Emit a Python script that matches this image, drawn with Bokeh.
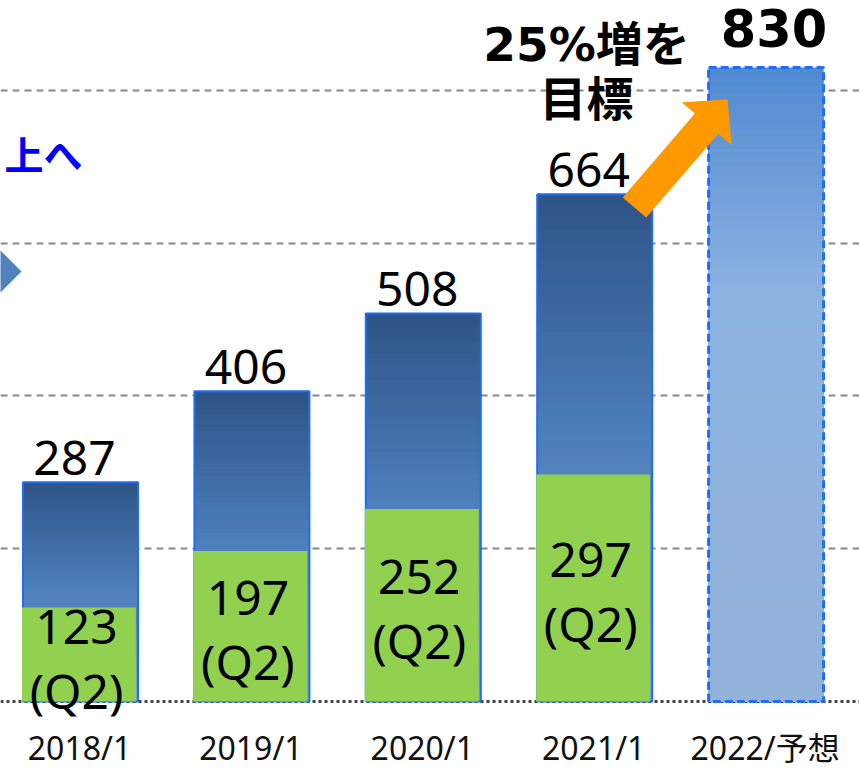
import numpy as np
from bokeh.plotting import figure
from bokeh.models import Range1d, Grid, FixedTicker, Span
from bokeh.core.properties import value
from bokeh.embed import file_html
from bokeh.resources import INLINE

# ---- data ----
categories = ["2018/1", "2019/1", "2020/1", "2021/1", "2022/予想"]
totals = [287, 406, 508, 664, 830]
q2_values = [123, 197, 252, 297]
q2_tag = "(Q2)"
grid_ticks = [200, 400, 600, 800]
target_line1 = "25%増を"
target_line2 = "目標"
side_text = "上へ"

# ---- layout ----
W, H = 859, 770
SX = 171.4          # px per category step
SY = 0.764          # px per unit
X0 = -80 / SX
X1 = X0 + W / SX
Y1 = 701 / SY
Y0 = Y1 - H / SY
BAR_W = 0.671

FONT = value("'Noto Sans', 'Noto Sans CJK JP'")
FONT_B = value("'DejaVu Sans', 'Noto Sans CJK JP'")

p = figure(width=W, height=H, x_range=Range1d(X0, X1), y_range=Range1d(Y0, Y1),
           output_backend="svg", toolbar_location=None,
           x_axis_location=None, y_axis_location=None, min_border=0)
p.outline_line_color = None
p.background_fill_color = "white"
p.grid.visible = False
p.xgrid.visible = False
p.ygrid.visible = False

p.add_layout(Grid(dimension=1, ticker=FixedTicker(ticks=grid_ticks),
                  grid_line_color="#878787", grid_line_dash="7 5",
                  grid_line_width=2))
p.add_layout(Span(location=0, dimension="width", line_color="#444444",
                  line_width=3, line_dash="3 3", level="underlay"))


def lerp_hex(stops, t):
    for (p0, c0), (p1, c1) in zip(stops[:-1], stops[1:]):
        if t <= p1:
            f = (t - p0) / (p1 - p0) if p1 > p0 else 0
            c = [int(round(a + (b - a) * f)) for a, b in zip(c0, c1)]
            return "#%02x%02x%02x" % tuple(c)
    return "#%02x%02x%02x" % stops[-1][1]


def hx(s):
    s = s.lstrip("#")
    return tuple(int(s[i:i + 2], 16) for i in (0, 2, 4))


blue_stops = [(0.0, hx("#2f5486")), (0.45, hx("#4a7db8")), (1.0, hx("#7aa2d5"))]
fcst_stops = [(0.0, hx("#528ad2")), (0.35, hx("#8db3e2")), (1.0, hx("#93b2d8"))]

N = 70
xs = list(range(len(categories)))
gl, gr, gt, gc = [], [], [], []
for i, v in enumerate(totals):
    stops = fcst_stops if i == len(totals) - 1 else blue_stops
    for k in range(N):
        frac = 1 - k / N
        gl.append(xs[i] - BAR_W / 2)
        gr.append(xs[i] + BAR_W / 2)
        gt.append(v * frac)
        gc.append(lerp_hex(stops, k / N))
p.quad(left=gl, right=gr, bottom=0, top=gt, fill_color=gc, line_color=None)

# borders
n_act = len(q2_values)
p.quad(left=[x - BAR_W / 2 for x in xs[:n_act]], right=[x + BAR_W / 2 for x in xs[:n_act]],
       bottom=0, top=totals[:n_act], fill_color=None, line_color="#1e6ef5", line_width=2)
p.quad(left=[xs[-1] - BAR_W / 2], right=[xs[-1] + BAR_W / 2], bottom=0, top=[totals[-1]],
       fill_color=None, line_color="#1e6ef5", line_width=3, line_dash="8 4")

# green Q2 bars
p.quad(left=[x - BAR_W / 2 - 0.006 for x in xs[:n_act]],
       right=[x + BAR_W / 2 - 0.012 for x in xs[:n_act]],
       bottom=0, top=q2_values, fill_color="#92d050", line_color=None)

# labels of totals
p.text(x=xs[:n_act], y=totals[:n_act], text=[str(v) for v in totals[:n_act]],
       text_font=FONT, text_font_size="48px", text_color="black",
       text_align="center", text_baseline="alphabetic", y_offset=-24, x_offset=-6)
p.text(x=[xs[-1]], y=[totals[-1]], text=[str(totals[-1])],
       text_font=FONT_B, text_font_style="bold", text_font_size="51px",
       text_color="black", text_align="center", text_baseline="alphabetic",
       y_offset=-39, x_offset=8)

# Q2 labels inside green bars
p.text(x=xs[:n_act], y=[v / 2 for v in q2_values],
       text=[f"{v}\n{q2_tag}" for v in q2_values],
       text_font=FONT, text_font_size="48px", text_color="black",
       text_align="center", text_baseline="middle", text_line_height=1.0,
       y_offset=3, x_offset=-4)

# category labels (below the zero line)
p.text(x=xs, y=[0] * len(xs), text=categories,
       text_font=FONT, text_font_size="32px", text_color="#111111",
       text_align="center", text_baseline="alphabetic", y_offset=46, x_offset=-1)

# target annotation
p.text(x=[2.952, 2.952], y=[859.9, 787.9], text=[target_line1, target_line2],
       text_font=FONT_B, text_font_style="bold", text_font_size="47px",
       text_color="black", text_align="center", text_baseline="alphabetic")

# blue side text (cut off at left)
p.text(x=[0.0], y=[691], text=[side_text], text_font=value("'Noto Sans CJK JP'"),
       text_font_style="bold", text_font_size="39px", text_color="#0000ff",
       text_align="right", text_baseline="alphabetic", y_offset=-21, x_offset=2)

# blue chevron tip at left edge
cx_px = [-40, 21, -40]
cy_px = [210, 271, 332]
p.patch(x=[X0 + c / SX for c in cx_px], y=[Y1 - c / SY for c in cy_px],
        fill_color="#4f81bd", line_color=None)

# orange arrow from 2021 bar to 2022 bar
tail = (3.232, 646.6)
tip = (3.775, 788.0)


def arrow_poly(tail, tip, shaft_w=31, head_w=66, head_len=32):
    t = np.array([tail[0] * SX, tail[1] * SY])
    h = np.array([tip[0] * SX, tip[1] * SY])
    d = h - t
    u = d / np.linalg.norm(d)
    n = np.array([-u[1], u[0]])
    b = h - head_len * u
    pts = [t + n * shaft_w / 2, b + n * shaft_w / 2, b + n * head_w / 2, h,
           b - n * head_w / 2, b - n * shaft_w / 2, t - n * shaft_w / 2]
    return [q[0] / SX for q in pts], [q[1] / SY for q in pts]


ax, ay = arrow_poly(tail, tip)
p.patch(x=ax, y=ay, fill_color="#ff9900", line_color=None)

open("out.html", "w").write(file_html(p, INLINE))
